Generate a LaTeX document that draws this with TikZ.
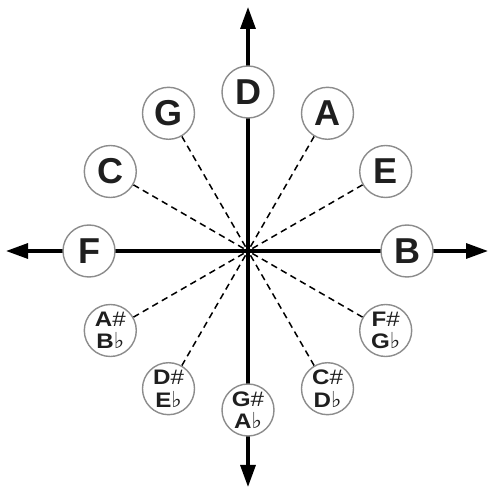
\documentclass[tikz,border=0pt]{standalone}
\usepackage{fontspec}
\setmainfont{Liberation Sans}
\newfontfamily\symfont{DejaVu Sans}
\newfontfamily\widefont[FakeStretch=1.15]{Liberation Sans}
\usetikzlibrary{arrows.meta,backgrounds}
\tikzset{
  note/.style={circle, draw=black!45, line width=1.4pt, fill=white, minimum size=52pt, inner sep=0pt, text=black!88},
  big/.style={note, font=\bfseries\fontsize{36}{36}\selectfont},
  small/.style={note, align=center, font=\widefont\fontsize{21}{22.5}\selectfont},
  axisline/.style={line width=3.2pt, {Triangle[length=22pt,width=15pt]}-{Triangle[length=22pt,width=15pt]}},
  spoke/.style={line width=1.5pt, dash pattern=on 6.5pt off 4.5pt, shorten <=5pt}
}
\newcommand{\sh}{{\fontsize{21}{21}\selectfont\#}}
\newcommand{\fl}{{\symfont\fontsize{22}{21}\selectfont ♭}}
\begin{document}
\begin{tikzpicture}[x=1pt,y=1pt]
\useasboundingbox (0,0) rectangle (490,491);
\coordinate (c) at (248,240);
\coordinate (top) at (248,484);
\coordinate (bot) at (248,4);
\coordinate (lft) at (6,240);
\coordinate (rgt) at (488,240);
\path (c) ++(90:159) node[big] (D) {D};
\path (c) ++(60:159) node[big] (A) {A};
\path (c) ++(30:159) node[big] (E) {E};
\path (c) ++(0:159) node[big] (B) {B};
\path (c) ++(-30:159) node[small] (Fs) {\textbf{F}\sh\\\textbf{G}\fl};
\path (c) ++(-60:159) node[small] (Cs) {\textbf{C}\sh\\\textbf{D}\fl};
\path (c) ++(-90:159) node[small] (Gs) {\textbf{G}\sh\\\textbf{A}\fl};
\path (c) ++(-120:159) node[small] (Ds) {\textbf{D}\sh\\\textbf{E}\fl};
\path (c) ++(-150:159) node[small] (As) {\textbf{A}\sh\\\textbf{B}\fl};
\path (c) ++(180:159) node[big] (F) {F};
\path (c) ++(150:159) node[big] (C) {C};
\path (c) ++(120:159) node[big] (G) {G};
\begin{pgfonlayer}{background}
\draw[axisline] (bot) -- (top);
\draw[axisline] (lft) -- (rgt);
\foreach \n in {A,E,Fs,Cs,Ds,As,C,G} \draw[spoke] (c) -- (\n);
\end{pgfonlayer}
\end{tikzpicture}
\end{document}
